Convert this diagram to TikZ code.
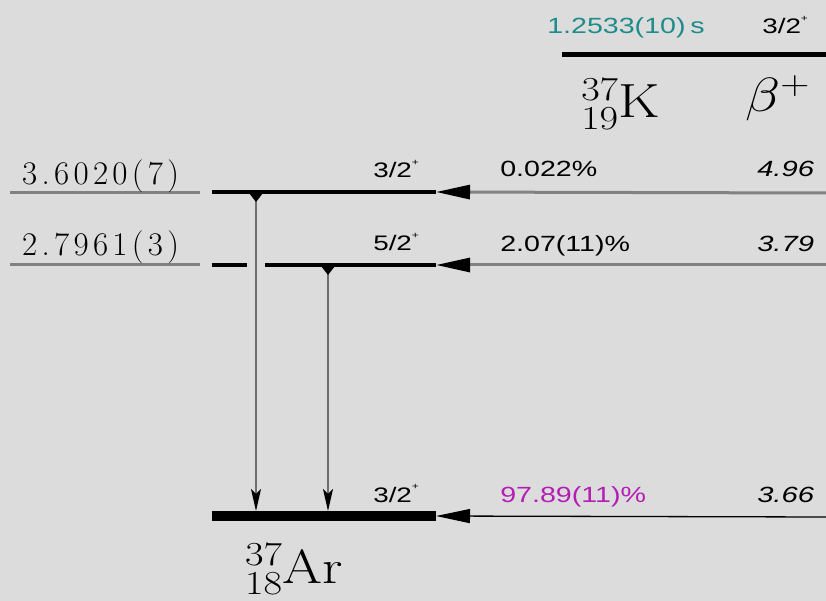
\RequirePackage{fix-cm}
\documentclass[tikz,border=0pt]{standalone}
\usepackage{fontspec}
\newfontfamily\hv{Liberation Sans}
\newfontfamily\lmspaced[LetterSpace=13]{Latin Modern Roman}
\usetikzlibrary{arrows.meta}
\definecolor{bgc}{RGB}{220,220,220}
\definecolor{tealc}{RGB}{30,140,140}
\definecolor{magc}{RGB}{180,30,180}
\definecolor{refgray}{RGB}{130,130,130}
\definecolor{gamgray}{RGB}{110,110,110}
\newcommand\spinlab[1]{#1\raisebox{0.6em}{\fontsize{9}{9}\selectfont +}}
\tikzset{
  hvlab/.style={font=\hv\fontsize{22}{24}\selectfont, inner sep=0pt, anchor=base west, xscale=1.3},
  hvit/.style={hvlab, font=\hv\itshape\fontsize{22}{24}\selectfont, xscale=1.02},
  spinl/.style={hvlab, font=\hv\fontsize{21}{24}\selectfont, xscale=1.02},
  enlab/.style={font=\lmspaced\fontsize{33}{36}\selectfont, inner sep=0pt, anchor=base west},
  nuclab/.style={font=\fontsize{48}{52}\selectfont, inner sep=0pt, anchor=base west, xscale=1.2},
  reflevel/.style={draw=refgray, line width=3pt},
  level/.style={draw=black, line width=4pt},
  glevel/.style={draw=black, line width=10pt},
  betaarr/.style={draw=refgray, line width=3pt, -{Triangle[length=34pt,width=14pt,black]}},
  betaarrk/.style={draw=black, line width=1.3pt, -{Triangle[length=34pt,width=14pt,black]}},
  gam/.style={draw=gamgray, line width=1.3pt, -{Stealth[length=22pt,width=10pt,inset=5pt,black]}},
}
\begin{document}
\begin{tikzpicture}[x=1pt,y=-1pt]
\fill[bgc] (0,0) rectangle (826,601);
\useasboundingbox (0,0) rectangle (826,601);

% parent 37K
\coordinate (Ka) at (562,55);
\coordinate (Kb) at (826,55);
\draw[black, line width=5pt] (Ka) -- (Kb);
\node[hvlab, text=tealc] (khalf) at (547,34) {1.2533(10)\,s};
\node[spinl] (kspin) at (762,34) {\spinlab{3/2}};
\node[nuclab] (kname) at (581,118) {$^{37}_{19}$K};
\node[nuclab] (bplus) at (745,112) {$\beta^{+}$};

% reference lines (left)
\coordinate (r1a) at (10,193);
\coordinate (r1b) at (200,193);
\coordinate (r2a) at (10,265);
\coordinate (r2b) at (200,265);
\draw[reflevel] (r1a) -- (r1b);
\draw[reflevel] (r2a) -- (r2b);
\node[enlab] (e1) at (22,185) {3.6020(7)};
\node[enlab] (e2) at (22,256) {2.7961(3)};

% Ar levels
\coordinate (L1a) at (212,192);
\coordinate (L1b) at (436,192);
\coordinate (L2a) at (212,265);
\coordinate (L2g1) at (247,265);
\coordinate (L2g2) at (265,265);
\coordinate (L2b) at (436,265);
\coordinate (L0a) at (212,516);
\coordinate (L0b) at (436,516);
\draw[level] (L1a) -- (L1b);
\draw[level] (L2a) -- (L2g1);
\draw[level] (L2g2) -- (L2b);
\draw[glevel] (L0a) -- (L0b);

% gamma transitions
\coordinate (g1t) at (256,193);
\coordinate (g1b) at (256,511);
\coordinate (g2t) at (328,266);
\coordinate (g2b) at (328,511);
\draw[gam] (g1t) -- (g1b);
\draw[gam] (g2t) -- (g2b);
\fill[black] (g1t) ++(-7,0) -- ++(14,0) -- ++(-7,9) -- cycle;
\fill[black] (g2t) ++(-7,0) -- ++(14,0) -- ++(-7,9) -- cycle;

% spin labels
\node[spinl] (s1) at (373,178) {\spinlab{3/2}};
\node[spinl] (s2) at (373,251) {\spinlab{5/2}};
\node[spinl] (s0) at (373,502) {\spinlab{3/2}};

% beta feeds
\coordinate (b1) at (826,193);
\coordinate (b2) at (826,265);
\coordinate (b0) at (826,517);
\draw[betaarr] (b1) -- (L1b);
\draw[betaarr] (b2) -- (L2b);
\draw[betaarrk] (b0) -- (L0b);

\node[hvlab] (p1) at (500,177) {0.022\%};
\node[hvlab] (p2) at (500,252) {2.07(11)\%};
\node[hvlab, text=magc] (p0) at (500,502) {97.89(11)\%};
\node[hvit] (f1) at (757,177) {4.96};
\node[hvit] (f2) at (757,252) {3.79};
\node[hvit] (f0) at (757,502) {3.66};

% daughter
\node[nuclab] (arname) at (245,583) {$^{37}_{18}$Ar};
\end{tikzpicture}
\end{document}
